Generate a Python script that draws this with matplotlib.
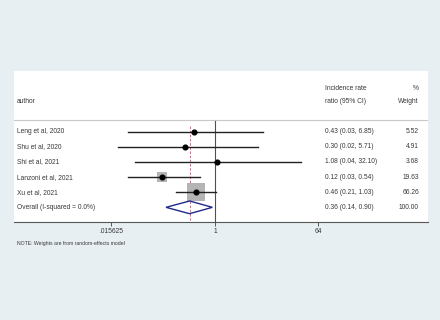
import matplotlib
matplotlib.use("Agg")
import matplotlib.pyplot as plt
import matplotlib.transforms as mtransforms
from matplotlib.patches import Polygon

plt.rcParams['font.family'] = ['Liberation Sans', 'DejaVu Sans']

estudios = ["Leng et al, 2020", "Shu et al, 2020", "Shi et al, 2021",
            "Lanzoni et al, 2021", "Xu et al, 2021"]
irr = [0.43, 0.30, 1.08, 0.12, 0.46]
ic_inf = [0.03, 0.02, 0.04, 0.03, 0.21]
ic_sup = [6.85, 5.71, 32.10, 0.54, 1.03]
pesos = [5.52, 4.91, 3.68, 19.63, 66.26]

global_label = "Overall (I-squared = 0.0%)"
global_irr, global_inf, global_sup, global_peso = 0.36, 0.14, 0.90, 100.00

ticks = [2**-6, 1, 64]
tick_labels = [".015625", "1", "64"]

fondo = "#e8eff2"
texto = "#383838"

fig = plt.figure(figsize=(4.4, 3.2), dpi=100, facecolor=fondo)
ax = fig.add_axes([14/440, (320-222)/320, 414/440, 151/320])
ax.set_facecolor("white")
ax.set_xscale("log", base=2)
ax.set_xlim(2**-11.65, 2**12.35)
ax.set_ylim(5.97, -4.02)

for s in ["top", "right", "left"]:
    ax.spines[s].set_visible(False)
ax.spines["bottom"].set_color("#555555")
ax.spines["bottom"].set_linewidth(0.8)
ax.set_yticks([])
ax.set_xticks(ticks)
ax.set_xticklabels(tick_labels)
ax.xaxis.set_minor_locator(matplotlib.ticker.NullLocator())
ax.tick_params(axis="x", length=3, width=0.7, color="#555555", labelsize=4.8,
               labelcolor=texto, pad=1.5)

tr = mtransforms.blended_transform_factory(ax.transAxes, ax.transData)

# cabecera
ax.text(0.0072, -1.97, "author", transform=tr, fontsize=4.8, color=texto, va="center")
ax.text(0.751, -2.89, "Incidence rate", transform=tr, fontsize=4.8, color=texto, va="center")
ax.text(0.751, -1.97, "ratio (95% CI)", transform=tr, fontsize=4.8, color=texto, va="center")
ax.text(0.978, -2.89, "%", transform=tr, fontsize=4.8, color=texto, va="center", ha="right")
ax.text(0.978, -1.97, "Weight", transform=tr, fontsize=4.8, color=texto, va="center", ha="right")
ax.axhline(-0.77, color="#c8c8c8", linewidth=0.8)

# linea de no efecto y linea del efecto global
ax.plot([1, 1], [-0.71, 5.97], color="#505050", linewidth=0.8)
ax.plot([global_irr, global_irr], [-0.38, 5.97], color="#b8607a", linewidth=0.6,
        linestyle=(0, (3, 2)))

for i, (nombre, e, lo, hi, w) in enumerate(zip(estudios, irr, ic_inf, ic_sup, pesos)):
    ax.scatter([e], [i], marker="s", s=155 * w / 66.26, color="#b4b4b4", zorder=2,
               linewidths=0)
    ax.plot([lo, hi], [i, i], color="#222222", linewidth=1.0, zorder=3)
    ax.plot([e], [i], "o", color="black", markersize=3.4, zorder=4)
    ax.text(0.0072, i, nombre, transform=tr, fontsize=4.8, color=texto, va="center")
    ax.text(0.751, i, f"{e:.2f} ({lo:.2f}, {hi:.2f})", transform=tr, fontsize=4.8,
            color=texto, va="center")
    ax.text(0.978, i, f"{w:.2f}", transform=tr, fontsize=4.8, color=texto,
            va="center", ha="right")

# diamante global
yg = len(estudios)
h = 0.42
diamante = Polygon([(global_inf, yg), (global_irr, yg - h), (global_sup, yg),
                    (global_irr, yg + h)], closed=True, fill=False,
                   edgecolor="#1f2a8c", linewidth=1.0, zorder=4)
ax.add_patch(diamante)
ax.text(0.0072, yg, global_label, transform=tr, fontsize=4.8, color=texto, va="center")
ax.text(0.751, yg, f"{global_irr:.2f} ({global_inf:.2f}, {global_sup:.2f})",
        transform=tr, fontsize=4.8, color=texto, va="center")
ax.text(0.978, yg, f"{global_peso:.2f}", transform=tr, fontsize=4.8, color=texto,
        va="center", ha="right")

fig.text(17/440, 1 - 243/320, "NOTE: Weights are from random-effects model",
         fontsize=3.7, color=texto, va="center")

fig.savefig("out.png", dpi=100, facecolor=fondo)
